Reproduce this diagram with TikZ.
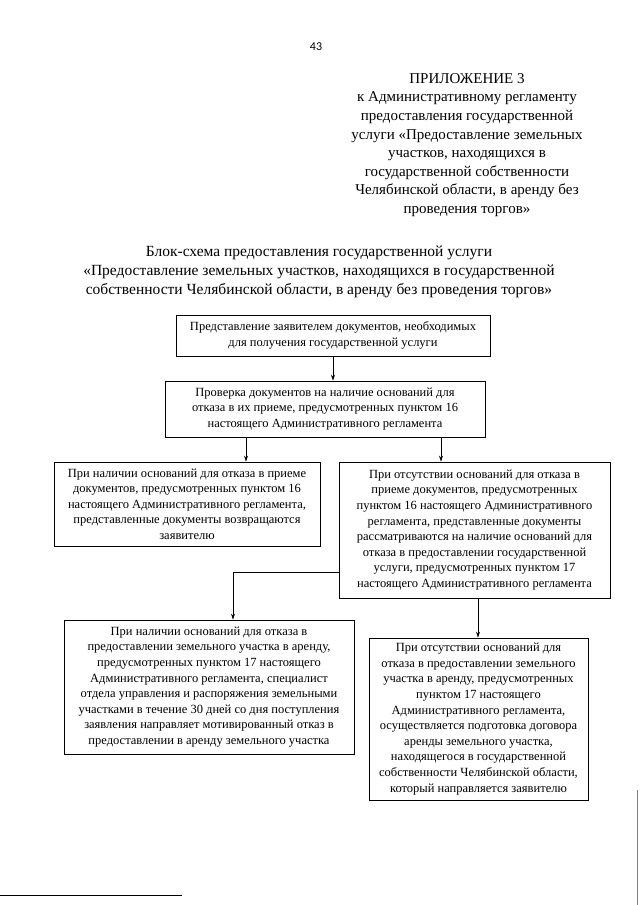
\documentclass[tikz,border=0pt]{standalone}
\usepackage{fontspec}
\setmainfont{Liberation Serif}
\newfontfamily\numfont{Carlito}
\usetikzlibrary{arrows.meta}

\begin{document}
\begin{tikzpicture}[x=1pt,y=-1pt,
        box/.style={draw, line width=0.7pt, align=center, inner sep=2pt, font=\fontsize{12.5}{15.6}\selectfont},
        arr/.style={-{Stealth[length=6pt,width=4pt]}, line width=0.7pt}]
    \useasboundingbox (0,0) rectangle (640,905);

    \node[font=\numfont\fontsize{12}{14}\selectfont] (page) at (316,47) {43};
    \node[align=center, font=\fontsize{15}{18.6}\selectfont] (annex) at (467,145)
        {ПРИЛОЖЕНИЕ 3\\к Административному регламенту\\предоставления государственной\\услуги «Предоставление земельных\\участков, находящихся в\\государственной собственности\\Челябинской области, в аренду без\\проведения торгов»};
    \node[align=center, font=\fontsize{15.5}{18.8}\selectfont] (title) at (319,272)
        {Блок-схема предоставления государственной услуги\\«Предоставление земельных участков, находящихся в государственной\\собственности Челябинской области, в аренду без проведения торгов»};

    \node[box, minimum width=314pt, minimum height=41pt] (apply) at (333,335.5)
        {Представление заявителем документов, необходимых\\для получения государственной услуги};
    \node[box, minimum width=320pt, minimum height=56pt] (check) at (325,409)
        {Проверка документов на наличие оснований для\\отказа в их приеме, предусмотренных пунктом 16\\настоящего Административного регламента};
    \node[box, minimum width=266pt, minimum height=84pt] (back) at (187,504)
        {При наличии оснований для отказа в приеме\\документов, предусмотренных пунктом 16\\настоящего Административного регламента,\\представленные документы возвращаются\\заявителю};
    \node[box, minimum width=271pt, minimum height=136pt] (review) at (474.5,530)
        {При отсутствии оснований для отказа в\\приеме документов, предусмотренных\\пунктом 16 настоящего Административного\\регламента, представленные документы\\рассматриваются на наличие оснований для\\отказа в предоставлении государственной\\услуги, предусмотренных пунктом 17\\настоящего Административного регламента};
    \node[box, minimum width=290pt, minimum height=134pt] (refusal) at (209,687)
        {При наличии оснований для отказа в\\предоставлении земельного участка в аренду,\\предусмотренных пунктом 17 настоящего\\Административного регламента, специалист\\отдела управления и распоряжения земельными\\участками в течение 30 дней со дня поступления\\заявления направляет мотивированный отказ в\\предоставлении в аренду земельного участка};
    \node[box, minimum width=219pt, minimum height=162pt] (lease) at (478.5,719)
        {При отсутствии оснований для\\отказа в предоставлении земельного\\участка в аренду, предусмотренных\\пунктом 17 настоящего\\Административного регламента,\\осуществляется подготовка договора\\аренды земельного участка,\\находящегося в государственной\\собственности Челябинской области,\\который направляется заявителю};

    \coordinate (toback) at (246,0);
    \coordinate (toreview) at (441,0);
    \coordinate (bend) at (233,572);
    \coordinate (tolease) at (478,0);
    \draw[arr] (apply.south) -- (apply.south |- check.north);
    \draw[arr] (check.south -| toback) -- (back.north -| toback);
    \draw[arr] (check.south -| toreview) -- (review.north -| toreview);
    \draw[arr] (review.west |- bend) -- (bend) -- (refusal.north -| bend);
    \draw[arr] (review.south -| tolease) -- (lease.north -| tolease);

    % scan edges
    \draw[line width=1pt] (0,895) -- (182,895);
    \draw[line width=0.6pt, gray] (637,790) -- (637,905);
\end{tikzpicture}
\end{document}
